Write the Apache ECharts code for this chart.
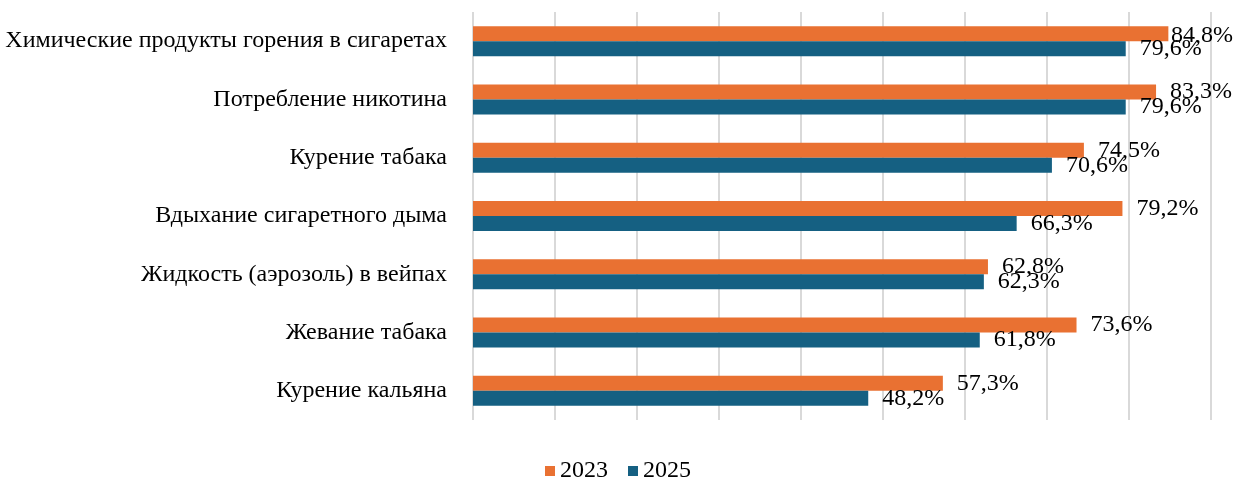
<!DOCTYPE html>
<html>
<head>
<meta charset="utf-8">
<script src="https://cdn.jsdelivr.net/npm/echarts@6/dist/echarts.min.js"></script>
<style>html,body{margin:0;padding:0;background:#fff}#c{width:1236px;height:480px}</style>
</head>
<body>
<div id="c"></div>
<script>
const categories = [
  'Химические продукты горения в сигаретах',
  'Потребление никотина',
  'Курение табака',
  'Вдыхание сигаретного дыма',
  'Жидкость (аэрозоль) в вейпах',
  'Жевание табака',
  'Курение кальяна'
];
const seriesNames = ['2023', '2025'];
const values2023 = [84.8, 83.3, 74.5, 79.2, 62.8, 73.6, 57.3];
const values2025 = [79.6, 79.6, 70.6, 66.3, 62.3, 61.8, 48.2];

const FONT = '"Liberation Serif", "Times New Roman", serif';
const W = 1236;
const chart = echarts.init(document.getElementById('c'));
const fmt = p => p.value.toFixed(1).replace('.', ',') + '%';
const labelCfg = {
  show: true, position: 'right', distance: 14, offset: [0, 2],
  formatter: fmt, color: '#000', fontFamily: FONT, fontSize: 24
};
const clamp = params => {
  const r = params.labelRect;
  if (r.x + r.width > W - 3) {
    return { x: W - 3 - r.width, y: r.y, align: 'left', verticalAlign: 'top' };
  }
  return {};
};
chart.setOption({
  animation: false,
  grid: { left: 473, right: 25, top: 12, bottom: 60 },
  legend: {
    data: seriesNames, top: 454, left: 'center',
    itemWidth: 10, itemHeight: 10, itemGap: 20, icon: 'rect',
    textStyle: { fontFamily: FONT, fontSize: 24, color: '#000' }
  },
  xAxis: {
    type: 'value', min: 0, max: 90, interval: 10,
    axisLabel: { show: false }, axisLine: { show: false }, axisTick: { show: false },
    splitLine: { show: true, lineStyle: { color: '#d9d9d9', width: 2 } }
  },
  yAxis: {
    type: 'category', data: categories, inverse: true,
    axisLine: { show: false }, axisTick: { show: false },
    axisLabel: { margin: 26, color: '#000', fontFamily: FONT, fontSize: 24 }
  },
  series: [
    { name: seriesNames[0], type: 'bar', data: values2023, barWidth: 15, barGap: '0%',
      itemStyle: { color: '#E97132' }, label: labelCfg, labelLayout: clamp },
    { name: seriesNames[1], type: 'bar', data: values2025, barWidth: 15, barGap: '0%',
      itemStyle: { color: '#156082' }, label: labelCfg, labelLayout: clamp }
  ]
});
</script>
</body>
</html>
